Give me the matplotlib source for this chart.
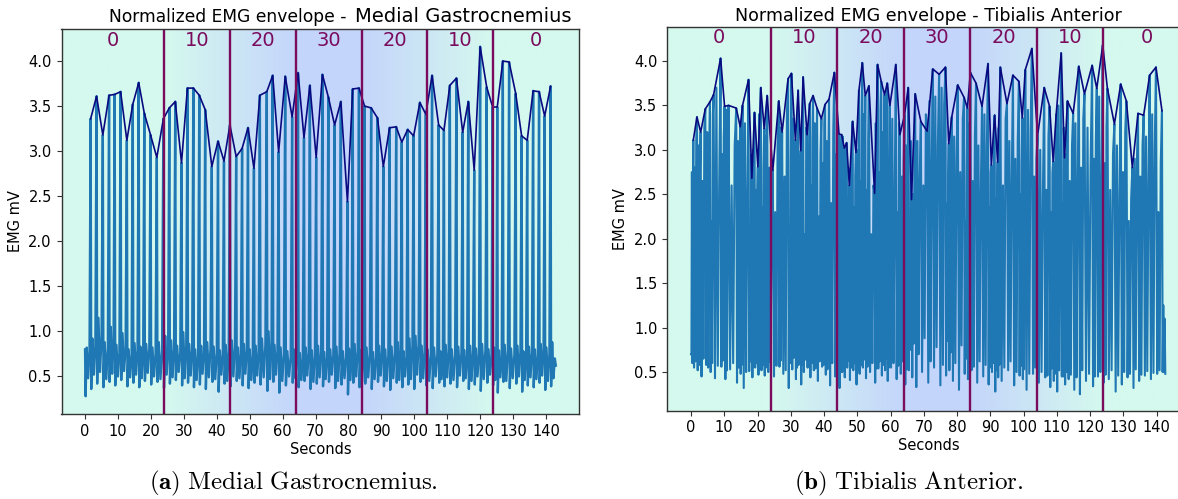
import numpy as np
import matplotlib
matplotlib.use("Agg")
import matplotlib.pyplot as plt
from matplotlib.colors import to_rgb

plt.rcParams['mathtext.fontset'] = 'cm'

# ---------------- data ----------------
incline_labels = ["0", "10", "20", "30", "20", "10", "0"]
incline_bounds = [24, 44, 64, 84, 104, 124]
ramp_t = [24, 64, 84, 124]
ramp_level = [0, 30, 30, 0]

# Medial Gastrocnemius: stride peaks (envelope vertices)
mg_peak_t = [1.7, 3.5, 5.4, 7.3, 9.0, 10.8, 12.7, 14.5, 16.3, 18.0,
             19.9, 21.8, 23.8, 25.6, 27.4, 29.3, 31.1, 32.9, 34.7, 36.5,
             38.5, 40.4, 42.2, 44.0, 45.9, 47.7, 49.5, 51.3, 53.1, 55.2,
             57.0, 58.8, 60.8, 62.9, 64.7, 66.5, 68.3, 70.2, 72.1, 73.9,
             75.8, 77.7, 79.7, 81.3, 83.2, 84.9, 86.9, 88.8, 90.6, 92.5,
             94.5, 96.2, 98.0, 99.8, 101.7, 103.5, 105.4, 107.4, 109.0, 110.8,
             112.8, 114.7, 116.4, 118.2, 120.0, 122.0, 123.8, 125.2, 126.9, 128.8,
             130.8, 132.6, 134.3, 136.1, 137.9, 139.6, 141.4]
mg_peak_v = [3.36, 3.61, 3.18, 3.62, 3.63, 3.66, 3.12, 3.52, 3.76, 3.42,
             3.18, 2.93, 3.36, 3.48, 3.55, 2.87, 3.70, 3.70, 3.62, 3.46,
             2.83, 3.11, 2.89, 3.29, 2.94, 3.03, 3.26, 2.81, 3.62, 3.66,
             3.84, 2.99, 3.83, 3.38, 3.87, 3.15, 3.73, 2.93, 3.85, 3.60,
             3.29, 3.55, 2.44, 3.69, 3.70, 3.50, 3.48, 3.37, 2.83, 3.26,
             3.27, 3.10, 3.24, 3.17, 3.54, 3.41, 3.84, 3.29, 3.23, 3.73,
             3.81, 3.21, 3.55, 2.79, 4.16, 3.71, 3.49, 3.49, 4.00, 3.99,
             3.64, 3.17, 3.12, 3.67, 3.66, 3.39, 3.72]
mg_start = (0.0, 0.80)
mg_end = (143.0, 0.62)
# baseline between strides (troughs and ripples)
mg_lo1 = [0.28, 0.36, 0.42, 0.38, 0.44, 0.40, 0.46, 0.39, 0.43, 0.38,
          0.45, 0.41, 0.44, 0.37, 0.42, 0.46, 0.40, 0.43, 0.38, 0.41,
          0.36, 0.44, 0.33, 0.42, 0.39, 0.45, 0.40, 0.37, 0.43, 0.41,
          0.34, 0.44, 0.32, 0.40, 0.43, 0.38, 0.45, 0.36, 0.42, 0.39,
          0.44, 0.37, 0.41, 0.30, 0.43, 0.38, 0.42, 0.36, 0.44, 0.39,
          0.35, 0.43, 0.38, 0.41, 0.36, 0.44, 0.40, 0.37, 0.43, 0.39,
          0.42, 0.38, 0.45, 0.36, 0.41, 0.34, 0.43, 0.40, 0.32, 0.44,
          0.37, 0.42, 0.33, 0.40, 0.38, 0.43, 0.35, 0.39]
mg_hi1 = [0.82, 0.92, 1.15, 0.88, 1.05, 0.85, 0.98, 0.80, 0.87, 0.83,
          0.86, 0.82, 0.88, 0.95, 0.90, 0.84, 0.99, 0.86, 0.80, 0.84,
          0.88, 0.83, 0.79, 0.85, 0.90, 0.82, 0.86, 0.80, 0.84, 0.92,
          1.00, 0.85, 0.82, 0.78, 0.80, 0.76, 0.82, 0.79, 0.84, 0.77,
          0.80, 0.83, 0.78, 0.81, 0.86, 0.79, 0.82, 0.77, 0.84, 0.80,
          0.83, 0.88, 0.78, 0.92, 0.95, 0.84, 0.80, 0.82, 0.78, 0.85,
          0.80, 0.83, 0.79, 0.84, 0.81, 0.86, 0.80, 0.82, 0.79, 0.85,
          0.81, 0.84, 0.78, 0.83, 0.80, 0.86, 0.82, 0.88]
mg_lo2 = [0.48, 0.52, 0.55, 0.47, 0.53, 0.50, 0.56, 0.49, 0.52, 0.48,
          0.54, 0.50, 0.47, 0.52, 0.49, 0.55, 0.48, 0.51, 0.46, 0.53,
          0.49, 0.47, 0.52, 0.45, 0.50, 0.48, 0.53, 0.46, 0.51, 0.49,
          0.47, 0.52, 0.45, 0.50, 0.48, 0.46, 0.51, 0.44, 0.49, 0.47,
          0.52, 0.45, 0.48, 0.46, 0.50, 0.44, 0.49, 0.47, 0.51, 0.45,
          0.48, 0.46, 0.50, 0.47, 0.52, 0.48, 0.45, 0.50, 0.47, 0.49,
          0.46, 0.51, 0.48, 0.45, 0.50, 0.47, 0.52, 0.46, 0.49, 0.45,
          0.48, 0.50, 0.46, 0.49, 0.47, 0.51, 0.45, 0.48]
mg_hi2 = [0.78, 0.85, 0.95, 0.80, 0.88, 0.76, 0.82, 0.74, 0.79, 0.77,
          0.81, 0.75, 0.78, 0.83, 0.80, 0.76, 0.84, 0.79, 0.73, 0.77,
          0.80, 0.76, 0.74, 0.78, 0.82, 0.75, 0.79, 0.73, 0.77, 0.85,
          0.88, 0.78, 0.75, 0.72, 0.74, 0.70, 0.76, 0.73, 0.77, 0.71,
          0.74, 0.76, 0.72, 0.75, 0.78, 0.72, 0.75, 0.71, 0.77, 0.73,
          0.76, 0.80, 0.72, 0.84, 0.86, 0.77, 0.73, 0.75, 0.72, 0.78,
          0.74, 0.76, 0.72, 0.77, 0.74, 0.79, 0.73, 0.75, 0.72, 0.78,
          0.74, 0.77, 0.71, 0.76, 0.73, 0.79, 0.75, 0.70]

# Tibialis Anterior: envelope vertices
ta_peak_t = [0.7, 1.8, 2.9, 4.3, 5.7, 6.8, 8.9, 10.1, 11.3, 13.6,
             14.8, 15.5, 17.3, 18.3, 19.1, 20.1, 21.0, 22.0, 22.9, 24.6,
             26.4, 27.4, 29.2, 30.2, 31.4, 32.2, 33.0, 33.7, 34.9, 35.7,
             36.7, 37.9, 39.2, 40.3, 41.5, 43.1, 44.5, 45.3, 46.1, 46.8,
             47.6, 48.6, 49.6, 50.5, 51.5, 52.4, 53.5, 55.2, 56.1, 57.2,
             58.2, 59.0, 59.8, 61.6, 62.8, 64.2, 65.3, 66.3, 67.4, 69.1,
             71.0, 72.7, 74.6, 76.5, 77.5, 78.4, 80.2, 82.1, 83.1, 84.0,
             85.7, 87.5, 89.3, 90.3, 91.3, 92.2, 93.0, 95.0, 96.8, 98.6,
             99.6, 100.5, 102.5, 104.2, 106.2, 107.8, 108.9, 109.8, 111.3, 112.3,
             113.2, 114.9, 116.6, 118.3, 120.6, 122.0, 123.8, 125.2, 127.3, 129.2,
             130.9, 132.7, 134.4, 136.1, 137.9, 139.8, 141.6]
ta_peak_v = [3.11, 3.37, 3.20, 3.46, 3.54, 3.62, 4.03, 3.49, 3.50, 3.47,
             3.26, 3.50, 3.79, 2.68, 3.42, 2.81, 3.70, 3.24, 3.61, 2.77,
             3.55, 3.20, 3.80, 3.86, 3.11, 3.67, 2.99, 3.82, 3.17, 3.52,
             3.61, 3.47, 3.35, 3.51, 3.57, 3.87, 3.18, 3.17, 3.02, 3.08,
             2.60, 3.32, 2.97, 3.67, 3.98, 3.61, 3.72, 2.51, 3.96, 3.77,
             3.62, 3.75, 3.50, 3.96, 3.17, 3.39, 3.70, 2.44, 3.63, 3.32,
             3.21, 3.91, 3.85, 3.93, 3.07, 3.37, 3.73, 3.59, 3.47, 3.87,
             3.75, 3.49, 3.97, 2.83, 3.39, 2.86, 3.93, 3.52, 3.84, 3.77,
             3.36, 3.90, 4.14, 3.16, 3.70, 3.49, 2.87, 3.40, 4.09, 2.91,
             3.55, 3.41, 3.94, 3.63, 3.95, 3.69, 4.18, 3.69, 3.29, 3.74,
             3.55, 2.80, 3.41, 3.39, 3.84, 3.93, 3.44]
ta_start = (0.0, 0.70)
ta_end = (142.6, 0.48)
ta_lo1 = [0.70, 0.55, 0.52, 0.45, 0.58, 0.50, 0.43, 0.56, 0.42, 0.53,
          0.38, 0.48, 0.32, 0.51, 0.44, 0.55, 0.47, 0.52, 0.46, 0.50,
          0.45, 0.56, 0.48, 0.32, 0.53, 0.42, 0.58, 0.36, 0.50, 0.55,
          0.44, 0.52, 0.40, 0.56, 0.47, 0.35, 0.45, 0.32, 0.50, 0.44,
          0.55, 0.41, 0.52, 0.36, 0.48, 0.55, 0.43, 0.50, 0.38, 0.54,
          0.46, 0.52, 0.40, 0.55, 0.42, 0.48, 0.36, 0.52, 0.44, 0.33,
          0.50, 0.38, 0.55, 0.35, 0.46, 0.52, 0.40, 0.30, 0.48, 0.42,
          0.52, 0.38, 0.45, 0.36, 0.50, 0.28, 0.44, 0.40, 0.52, 0.35,
          0.46, 0.42, 0.30, 0.48, 0.38, 0.44, 0.33, 0.40, 0.28, 0.45,
          0.36, 0.42, 0.30, 0.25, 0.40, 0.34, 0.45, 0.38, 0.42, 0.28,
          0.36, 0.44, 0.32, 0.40, 0.46, 0.42, 0.48, 0.50]
ta_mid = [2.75, 2.80, 3.05, 2.65, 3.20, 2.20, 3.70, 2.95, 3.45, 2.60,
          3.10, 2.40, 3.30, 2.10, 3.00, 2.55, 3.40, 2.35, 3.15, 2.80,
          2.30, 3.25, 2.70, 2.15, 3.35, 2.90, 2.45, 3.20, 2.05, 3.05,
          2.60, 3.30, 2.25, 2.85, 3.10, 2.40, 2.95, 2.20, 3.15, 2.50,
          2.10, 2.80, 2.35, 3.00, 2.65, 3.40, 2.55, 2.05, 3.30, 2.75,
          3.20, 2.45, 2.90, 3.35, 2.30, 2.70, 3.05, 2.15, 2.50, 3.10,
          2.60, 3.55, 3.60, 3.70, 2.40, 2.90, 3.15, 2.75, 2.20, 3.30,
          2.65, 3.05, 3.40, 2.35, 2.80, 2.45, 3.25, 2.60, 3.10, 2.90,
          2.50, 3.35, 3.45, 2.70, 3.00, 2.55, 2.30, 2.85, 3.50, 2.40,
          2.95, 2.65, 3.30, 2.80, 3.25, 2.90, 3.60, 2.85, 2.55, 3.05,
          2.75, 2.20, 2.90, 2.70, 3.15, 3.40, 2.30, 1.25]
ta_lo2 = [0.60, 0.62, 0.58, 0.65, 0.55, 0.60, 0.57, 0.63, 0.52, 0.60,
          0.55, 0.58, 0.50, 0.62, 0.56, 0.60, 0.53, 0.58, 0.55, 0.61,
          0.57, 0.63, 0.52, 0.60, 0.66, 0.55, 0.62, 0.58, 0.64, 0.56,
          0.60, 0.54, 0.62, 0.58, 0.53, 0.60, 0.56, 0.50, 0.62, 0.58,
          0.63, 0.55, 0.60, 0.52, 0.58, 0.64, 0.56, 0.60, 0.54, 0.62,
          0.58, 0.65, 0.55, 0.60, 0.57, 0.62, 0.53, 0.75, 0.82, 0.70,
          0.88, 0.62, 0.78, 0.58, 0.85, 0.72, 0.60, 0.80, 0.65, 0.74,
          0.56, 0.62, 0.58, 0.55, 0.60, 0.52, 0.58, 0.55, 0.62, 0.50,
          0.57, 0.53, 0.48, 0.55, 0.50, 0.46, 0.54, 0.48, 0.52, 0.45,
          0.50, 0.47, 0.44, 0.52, 0.48, 0.45, 0.50, 0.47, 0.52, 0.46,
          0.50, 0.48, 0.53, 0.47, 0.51, 0.49, 0.52, 0.50]
ta_mid2 = [2.40, 3.10, 2.70, 3.25, 2.85, 3.40, 2.60, 3.15, 2.30, 3.05,
           2.75, 3.30, 2.50, 2.95, 3.20, 2.45, 3.00, 2.80, 3.35, 2.25,
           3.05, 2.60, 3.40, 2.90, 2.55, 3.15, 2.80, 2.40, 3.25, 2.70,
           3.10, 2.45, 2.95, 3.30, 2.60, 3.20, 2.35, 2.85, 2.55, 3.05,
           2.40, 3.15, 2.70, 2.45, 3.35, 2.80, 3.10, 2.60, 2.90, 3.45,
           2.55, 3.25, 2.75, 2.50, 3.30, 2.85, 2.35, 3.10, 2.95, 2.65,
           3.40, 2.75, 3.05, 3.50, 2.60, 3.20, 2.85, 3.35, 2.70, 2.95,
           3.15, 2.55, 3.00, 2.75, 3.30, 2.45, 2.90, 3.35, 2.65, 3.10,
           2.85, 2.60, 3.20, 2.90, 2.50, 3.15, 2.75, 3.00, 2.40, 3.25,
           2.70, 3.05, 2.55, 3.35, 2.80, 3.10, 2.65, 3.25, 2.95, 2.50,
           3.20, 2.45, 2.85, 3.05, 2.60, 3.00, 2.85, 1.10]

# ---------------- styling ----------------
SIG = '#1f77b4'
ENV = '#0a0a80'
PURP = '#7a0b5d'
MINT = '#d5f9ee'
PERI = '#c4d5fb'
XLIM = (-7.15, 150.15)


def build_signal(start, peaks_t, peaks_v, end, fillers, fracs):
    bt = [start[0]] + list(peaks_t) + [end[0]]
    bv = [start[1]] + list(peaks_v) + [end[1]]
    ts, vs = [bt[0]], [bv[0]]
    for i in range(len(bt) - 1):
        t0, t1 = bt[i], bt[i + 1]
        for f, lst in zip(fracs, fillers):
            ts.append(t0 + f * (t1 - t0))
            vs.append(lst[i])
        ts.append(t1)
        vs.append(bv[i + 1])
    return np.array(ts), np.array(vs)


def draw_panel(ax, sig_t, sig_v, env_t, env_v, ylim, label_y, sig_lw):
    ax.set_xlim(*XLIM)
    ax.set_ylim(*ylim)
    # gradient background following incline
    xs = np.linspace(XLIM[0], XLIM[1], 800)
    lev = np.interp(xs, ramp_t, ramp_level) / 30.0
    c0, c1 = np.array(to_rgb(MINT)), np.array(to_rgb(PERI))
    img = (c0[None, :] * (1 - lev[:, None]) + c1[None, :] * lev[:, None])[None, :, :]
    ax.imshow(img, extent=[XLIM[0], XLIM[1], ylim[0], ylim[1]], aspect='auto',
              origin='lower', zorder=0, interpolation='bilinear')
    ax.plot(sig_t, sig_v, color=SIG, lw=sig_lw, zorder=2)
    ax.plot(env_t, env_v, color=ENV, lw=1.2, zorder=3)
    for b in incline_bounds:
        ax.axvline(b, color=PURP, lw=1.7, zorder=4)
    edges = [XLIM[0]] + incline_bounds + [XLIM[1]]
    for i, lab in enumerate(incline_labels):
        ax.text((edges[i] + edges[i + 1]) / 2, label_y, lab, color=PURP,
                ha='center', va='center', fontsize=14, zorder=5)
    ax.set_xticks(np.arange(0, 141, 10))
    ax.set_yticks([0.5, 1.0, 1.5, 2.0, 2.5, 3.0, 3.5, 4.0])
    ax.set_xlabel('Seconds', fontsize=10.5, labelpad=2)
    ax.set_ylabel('EMG mV', fontsize=10.5)
    ax.tick_params(labelsize=10.5, color='#333333')
    for s in ax.spines.values():
        s.set_color('#333333')
        s.set_linewidth(1.0)
        s.set_zorder(6)


W, H = 1178, 499
fig = plt.figure(figsize=(W / 100, H / 100), dpi=100)

# panel (a)
ax1 = fig.add_axes([61.5 / W, 1 - 414 / H, (579.4 - 61.5) / W, (414 - 29) / H])
mg_t, mg_v = build_signal(mg_start, mg_peak_t, mg_peak_v, mg_end,
                          [mg_lo1, mg_hi1, mg_lo2, mg_hi2], [0.1, 0.3, 0.55, 0.8])
draw_panel(ax1, mg_t, mg_v, mg_peak_t, mg_peak_v, (0.083, 4.356), 4.23, 1.7)

# panel (b)
ax2 = fig.add_axes([667.2 / W, 1 - 410.7 / H, (1190.4 - 667.2) / W, (410.7 - 26.7) / H])
ta_t, ta_v = build_signal(ta_start, ta_peak_t, ta_peak_v, ta_end,
                          [ta_lo1, ta_mid, ta_lo2, ta_mid2], [0.2, 0.4, 0.6, 0.8])
draw_panel(ax2, ta_t, ta_v, ta_peak_t, ta_peak_v, (0.065, 4.386), 4.27, 1.5)

# titles
fig.text(352 / W, 1 - 22 / H, 'Normalized EMG envelope - ', ha='right', va='baseline',
         fontsize=12.3)
fig.text(355 / W, 1 - 22 / H, 'Medial Gastrocnemius', ha='left', va='baseline',
         fontsize=14)
ax2.set_title('Normalized EMG envelope - Tibialis Anterior', fontsize=12.6, pad=4)

# captions
fig.text(293 / W, 1 - 483 / H, r'$\mathbf{(a)}\ \mathrm{Medial\ Gastrocnemius.}$',
         ha='center', va='center', fontsize=18)
fig.text(909 / W, 1 - 483 / H, r'$\mathbf{(b)}\ \mathrm{Tibialis\ Anterior.}$',
         ha='center', va='center', fontsize=18)

fig.savefig('out.png', dpi=100)
